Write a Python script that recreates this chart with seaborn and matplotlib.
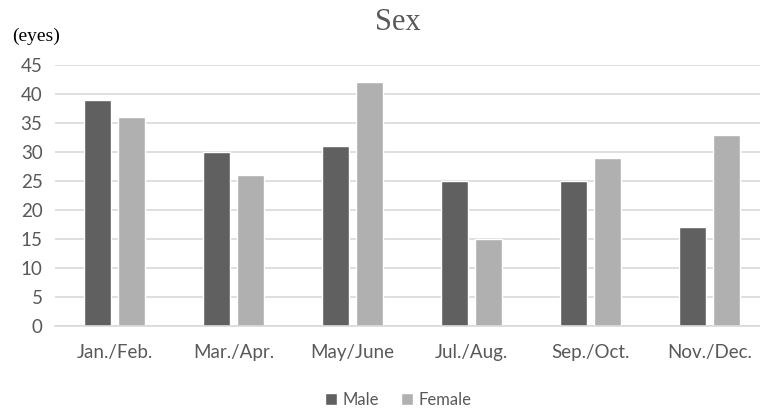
import matplotlib
matplotlib.use("Agg")
import matplotlib.pyplot as plt
import seaborn as sns
import pandas as pd

categories = ["Jan./Feb.", "Mar./Apr.", "May/June", "Jul./Aug.", "Sep./Oct.", "Nov./Dec."]
male = [39, 30, 31, 25, 25, 17]
female = [36, 26, 42, 15, 29, 33]
yticks = [0, 5, 10, 15, 20, 25, 30, 35, 40, 45]

df = pd.DataFrame({
    "period": categories * 2,
    "value": male + female,
    "sex": ["Male"] * len(categories) + ["Female"] * len(categories),
})

sns.set_theme(style="white")
plt.rcParams["font.family"] = ["Lato", "DejaVu Sans"]

fig = plt.figure(figsize=(7.6, 4.09), dpi=100)
ax = fig.add_axes([0.0724, 0.203, 0.9395, 0.638])

sns.barplot(data=df, x="period", y="value", hue="sex",
            palette={"Male": "#606060", "Female": "#b0b0b0"},
            width=0.571, gap=0.206, ax=ax, legend=True, saturation=1)

ax.set_ylim(0, 45)
ax.set_xlim(-0.5, 5.5)
ax.set_yticks(yticks)
ax.yaxis.grid(True, color="#d9d9d9", linewidth=1.2)
ax.set_axisbelow(True)
for s in ["top", "right", "left"]:
    ax.spines[s].set_visible(False)
ax.spines["bottom"].set_color("#d9d9d9")
ax.spines["bottom"].set_linewidth(1.2)
ax.tick_params(axis="both", length=0, colors="#595959", labelsize=13.5)
ax.tick_params(axis="x", pad=13)
ax.tick_params(axis="y", pad=9)
ax.set_xlabel("")
ax.set_ylabel("")

leg = ax.legend(loc="center", bbox_to_anchor=(0.481, -0.283), ncol=2,
                frameon=False, fontsize=12, handlelength=0.7, handleheight=0.7,
                columnspacing=1.3, handletextpad=0.35)
for t in leg.get_texts():
    t.set_color("#595959")

fig.text(0.523, 0.945, "Sex", ha="center", va="center", fontsize=22,
         family=["Liberation Serif", "DejaVu Serif"], color="#595959")
fig.text(0.016, 0.91, "(eyes)", ha="left", va="center", fontsize=14,
         family=["Liberation Serif", "DejaVu Serif"], color="black")

fig.savefig("out.png", dpi=100)
